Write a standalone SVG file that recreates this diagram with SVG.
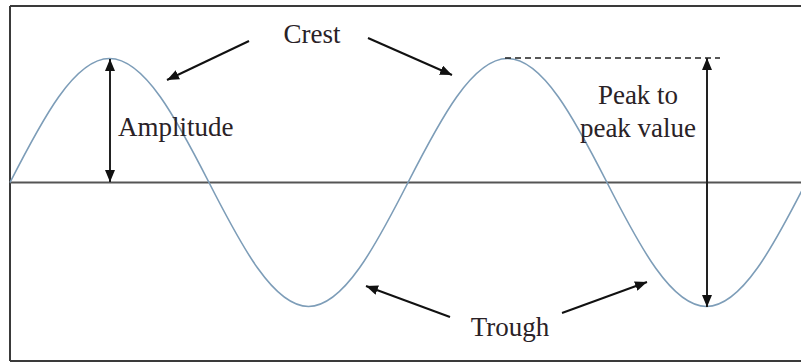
<svg xmlns="http://www.w3.org/2000/svg" width="801" height="363" viewBox="0 0 801 363">
  <style>
    .lbl { font-family: 'Liberation Serif', 'DejaVu Serif', serif; font-size: 27px; fill: #2a2226; }
    .arrow { stroke: #111; stroke-width: 2; fill: none; marker-end: url(#ah); }
    .dbl { stroke: #222; stroke-width: 2; fill: none; marker-start: url(#ah); marker-end: url(#ah); }
  </style>
  <defs>
    <marker id="ah" viewBox="0 0 12 10" refX="12" refY="5" markerWidth="12" markerHeight="10" markerUnits="userSpaceOnUse" orient="auto-start-reverse">
      <path d="M0,0 L12,5 L0,10 z" fill="#111"/>
    </marker>
  </defs>
  <rect x="0" y="0" width="801" height="363" fill="#ffffff"/>
  <g id="frame" stroke="#3a3a3a" stroke-width="2" fill="none">
    <line x1="10" y1="6" x2="801" y2="6"/>
    <line x1="10" y1="6" x2="10" y2="361"/>
    <line x1="10" y1="361" x2="801" y2="361"/>
  </g>
  <g id="axis">
    <line x1="10" y1="182.5" x2="801" y2="182.5" stroke="#555" stroke-width="2.2"/>
  </g>
  <g id="wave">
    <path d="M10,182.5 C42.4,119 74.5,58.5 109.5,58.5 C144.5,58.5 176.6,119 209,182.5 C241.4,246 273.5,306.5 308.5,306.5 C343.5,306.5 375.6,246 408,182.5 C440.4,119 472.5,58.5 507.5,58.5 C542.5,58.5 574.6,119 607,182.5 C639.4,246 671.5,306.5 706.5,306.5 C741.5,306.5 773.6,246 806,182.5" fill="none" stroke="#7d9db8" stroke-width="1.6"/>
  </g>
  <g id="connectors">
    <line class="arrow" x1="249" y1="41" x2="167" y2="80"/>
    <line class="arrow" x1="368" y1="38" x2="452" y2="75"/>
    <line class="arrow" x1="450" y1="317" x2="366" y2="286"/>
    <line class="arrow" x1="562" y1="313" x2="647" y2="282"/>
    <line class="dbl" x1="110" y1="59" x2="110" y2="182"/>
    <line class="dbl" x1="707" y1="58" x2="707" y2="307"/>
    <line x1="505" y1="58" x2="720" y2="58" stroke="#222" stroke-width="1.5" stroke-dasharray="6,4"/>
  </g>
  <g id="crest"><text class="lbl" font-family="Liberation Serif, serif" x="312" y="43" text-anchor="middle">Crest</text></g>
  <g id="amplitude"><text class="lbl" x="118" y="136">Amplitude</text></g>
  <g id="peak-to-peak">
    <text class="lbl" x="638" y="104" text-anchor="middle">Peak to</text>
    <text class="lbl" x="638" y="137" text-anchor="middle">peak value</text>
  </g>
  <g id="trough"><text class="lbl" x="510" y="336" text-anchor="middle">Trough</text></g>
</svg>
